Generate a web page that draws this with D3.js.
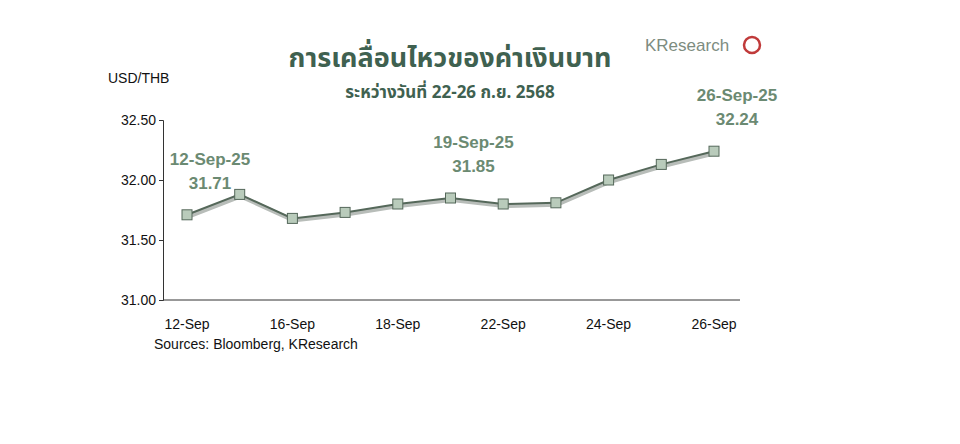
<!DOCTYPE html><html><head><meta charset="utf-8"><script src="https://cdn.jsdelivr.net/npm/d3@7"></script>
<style>body{margin:0;background:#fff}</style></head><body><svg id="c" width="960" height="444"></svg>
<script>
const dates=["12-Sep","15-Sep","16-Sep","17-Sep","18-Sep","19-Sep","22-Sep","23-Sep","24-Sep","25-Sep","26-Sep"];
const values=[31.71,31.88,31.68,31.73,31.80,31.85,31.80,31.81,32.00,32.13,32.24];
const xLabels=["12-Sep","16-Sep","18-Sep","22-Sep","24-Sep","26-Sep"];
const yTicks=[31.00,31.50,32.00,32.50];
const annotations=[{i:0,t1:"12-Sep-25",t2:"31.71"},{i:5,t1:"19-Sep-25",t2:"31.85"},{i:10,t1:"26-Sep-25",t2:"32.24"}];
const svg=d3.select("#c");
const x=d3.scalePoint().domain(dates).range([187,714]);
const y=d3.scaleLinear().domain([31,32.5]).range([300,120]);
const F="Liberation Sans, Arial, sans-serif";
svg.append("line").attr("x1",163).attr("x2",740).attr("y1",300).attr("y2",300).attr("stroke","#333");
const ya=svg.append("g").attr("transform","translate(163,0)").call(d3.axisLeft(y).tickValues(yTicks).tickFormat(d3.format(".2f")).tickSize(4));
ya.selectAll("text").attr("font-family",F).attr("font-size",14).attr("fill","#111");
ya.selectAll("path,line").attr("stroke","#333");
svg.selectAll(".xl").data(xLabels).enter().append("text").attr("x",d=>x(d)).attr("y",329).attr("text-anchor","middle").attr("font-family",F).attr("font-size",14).attr("fill","#111").text(d=>d);
svg.append("text").attr("x",108).attr("y",83).attr("font-family",F).attr("font-size",14).attr("fill","#111").text("USD/THB");
svg.append("text").attr("x",154).attr("y",349).attr("font-family",F).attr("font-size",14).attr("fill","#111").text("Sources: Bloomberg, KResearch");
const line=d3.line().x((d,i)=>x(dates[i])).y(d=>y(d));
svg.append("path").datum(values).attr("d",line).attr("transform","translate(1,2)").attr("fill","none").attr("stroke","#b8bdb9").attr("stroke-width",4);
svg.append("path").datum(values).attr("d",line).attr("fill","none").attr("stroke","#55685a").attr("stroke-width",2);
svg.selectAll(".m").data(values).enter().append("rect").attr("x",(d,i)=>x(dates[i])-5).attr("y",d=>y(d)-5).attr("width",10).attr("height",10).attr("fill","#b9cbbb").attr("stroke","#55685a").attr("stroke-width",1);
annotations.forEach(a=>{const cx=x(dates[a.i]),cy=y(values[a.i]);
 svg.append("text").attr("x",cx+23).attr("y",cy-50).attr("text-anchor","middle").attr("font-family",F).attr("font-weight","bold").attr("font-size",17).attr("fill","#6b8a72").text(a.t1);
 svg.append("text").attr("x",cx+23).attr("y",cy-26).attr("text-anchor","middle").attr("font-family",F).attr("font-weight","bold").attr("font-size",17).attr("fill","#6b8a72").text(a.t2);});
svg.append("text").attr("x",450).attr("y",67).attr("text-anchor","middle").attr("font-family","Noto Sans Thai, Noto Sans, sans-serif").attr("font-weight","bold").attr("font-size",27).attr("fill","#3f6150").text("การเคลื่อนไหวของค่าเงินบาท");
svg.append("text").attr("x",450).attr("y",98).attr("text-anchor","middle").attr("font-family","Noto Sans Thai, Noto Sans, sans-serif").attr("font-weight","bold").attr("font-size",17).attr("fill","#3f6150").text("ระหว่างวันที่ 22-26 ก.ย. 2568");
svg.append("text").attr("x",645).attr("y",51).attr("font-family",F).attr("font-size",17).attr("fill","#7d8c80").text("KResearch");
svg.append("circle").attr("cx",752).attr("cy",45).attr("r",8).attr("fill","#fff").attr("stroke","#c03a3a").attr("stroke-width",2.5);
</script></body></html>
